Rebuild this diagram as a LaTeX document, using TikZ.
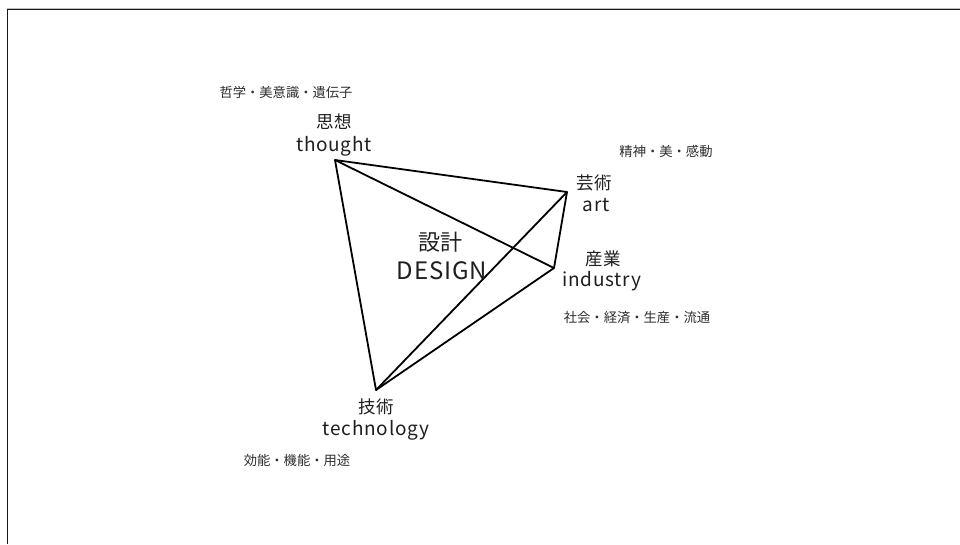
\documentclass[tikz,border=0pt]{standalone}
\usepackage{fontspec}
\setmainfont{Noto Sans CJK JP}
\newfontfamily\latf[LetterSpace=4]{Noto Sans CJK JP}
\begin{document}
\begin{tikzpicture}[x=1pt,y=-1pt,
  edge/.style={line width=1.8pt,line join=round},
  jlbl/.style={inner sep=0pt,font=\fontsize{17.5}{21}\selectfont,text=black!88},
  elbl/.style={inner sep=0pt,font=\latf\fontsize{19}{23}\selectfont,text=black!88},
  small/.style={inner sep=0pt,font=\fontsize{13.3}{16}\selectfont,text=black!82},
  jcen/.style={inner sep=0pt,font=\fontsize{22}{27}\selectfont,text=black!88},
  ecen/.style={inner sep=0pt,font=\latf\fontsize{24}{28}\selectfont,text=black!88}]
\useasboundingbox (0,0) rectangle (960,544);
\fill[white] (0,0) rectangle (960,544);
\draw[black!25,line width=0.8pt] (6.5,8) -- (960,8);
\draw[black!90,line width=1.2pt] (960,9.5) -- (7.5,9.5) -- (7.5,544);
\coordinate (T) at (335,160);
\coordinate (A) at (567,192);
\coordinate (I) at (554,268);
\coordinate (K) at (376,390);
\draw[edge] (T) -- (A) -- (I) -- (K) -- cycle;
\draw[edge] (T) -- (I);
\draw[edge] (A) -- (K);
\node[jlbl] (tj) at (334,122) {思想};
\node[elbl] (te) at (334,146) {thought};
\node[jlbl] (aj) at (594,183) {芸術};
\node[elbl] (ae) at (596,205) {art};
\node[jlbl] (ij) at (603,259) {産業};
\node[elbl] (ie) at (602,281) {industry};
\node[jlbl] (kj) at (376,407) {技術};
\node[elbl] (ke) at (376,430) {technology};
\node[jcen] (dj) at (440,242) {設計};
\node[ecen] (de) at (442,271) {DESIGN};
\node[small] (ts) at (286,92) {哲学・美意識・遺伝子};
\node[small] (as) at (666,151) {精神・美・感動};
\node[small] (is) at (637,318) {社会・経済・生産・流通};
\node[small] (ks) at (297,460) {効能・機能・用途};
\end{tikzpicture}
\end{document}
